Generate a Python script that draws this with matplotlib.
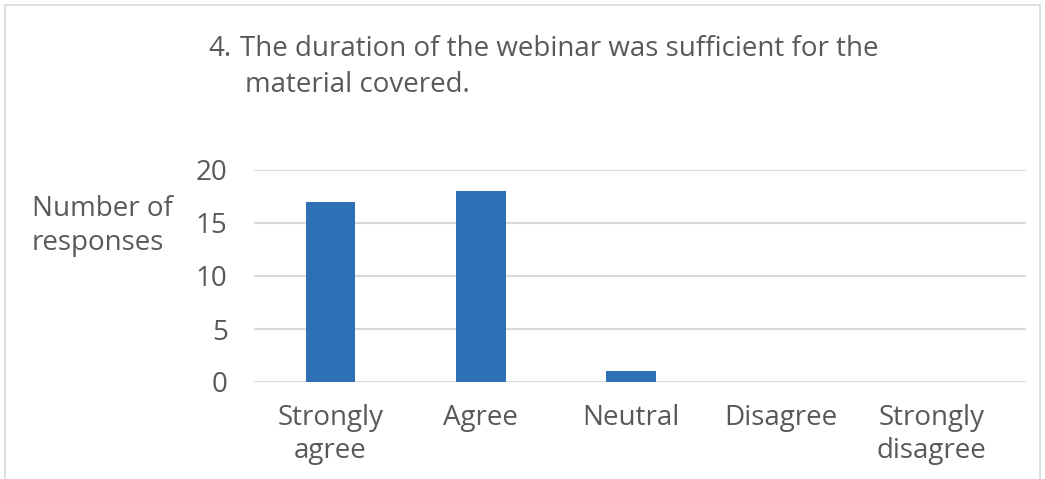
import matplotlib
matplotlib.use("Agg")
import matplotlib.pyplot as plt
from matplotlib.patches import Rectangle

# data
categories = ["Strongly\nagree", "Agree", "Neutral", "Disagree", "Strongly\ndisagree"]
responses = [17, 18, 1, 0, 0]
y_ticks = [0, 5, 10, 15, 20]

W, H = 1045, 479
txt = "#595959"
fs = 20
plt.rcParams['font.family'] = ['Open Sans', 'DejaVu Sans']

fig = plt.figure(figsize=(W / 100, H / 100), dpi=100)

# chart border
fig.patches.append(Rectangle((5 / W, -0.01), 1035 / W, 1 - 5 / H + 0.01,
                             transform=fig.transFigure, fill=False,
                             edgecolor="#d9d9d9", linewidth=1.2))

ax = fig.add_axes([254 / W, 1 - 382 / H, (1026 - 254) / W, (382 - 170) / H])
x = list(range(len(categories)))
ax.bar(x, responses, width=0.33, color="#2e70b8", zorder=3)
ax.set_xlim(-0.51, 4.63)
ax.set_ylim(0, 20)
ax.set_yticks(y_ticks)
ax.set_xticks(x)
ax.set_xticklabels(categories, fontsize=fs, color=txt, linespacing=1.24)
ax.tick_params(axis="y", labelsize=fs, labelcolor=txt, length=0, pad=19)
ax.tick_params(axis="x", length=0, pad=16)
ax.grid(axis="y", color="#d9d9d9", linewidth=1.5, zorder=0)
for s in ax.spines.values():
    s.set_visible(False)

def put(px, py, s):
    fig.text(px / W, 1 - py / H, s, fontsize=fs, color=txt, ha="left", va="baseline")

put(32, 216, "Number of")
put(32, 250, "responses")
put(208, 56, "4.")
put(240, 56, "The duration of the webinar was sufficient for the")
put(245, 92, "material covered.")

fig.savefig("out.png", dpi=100)
